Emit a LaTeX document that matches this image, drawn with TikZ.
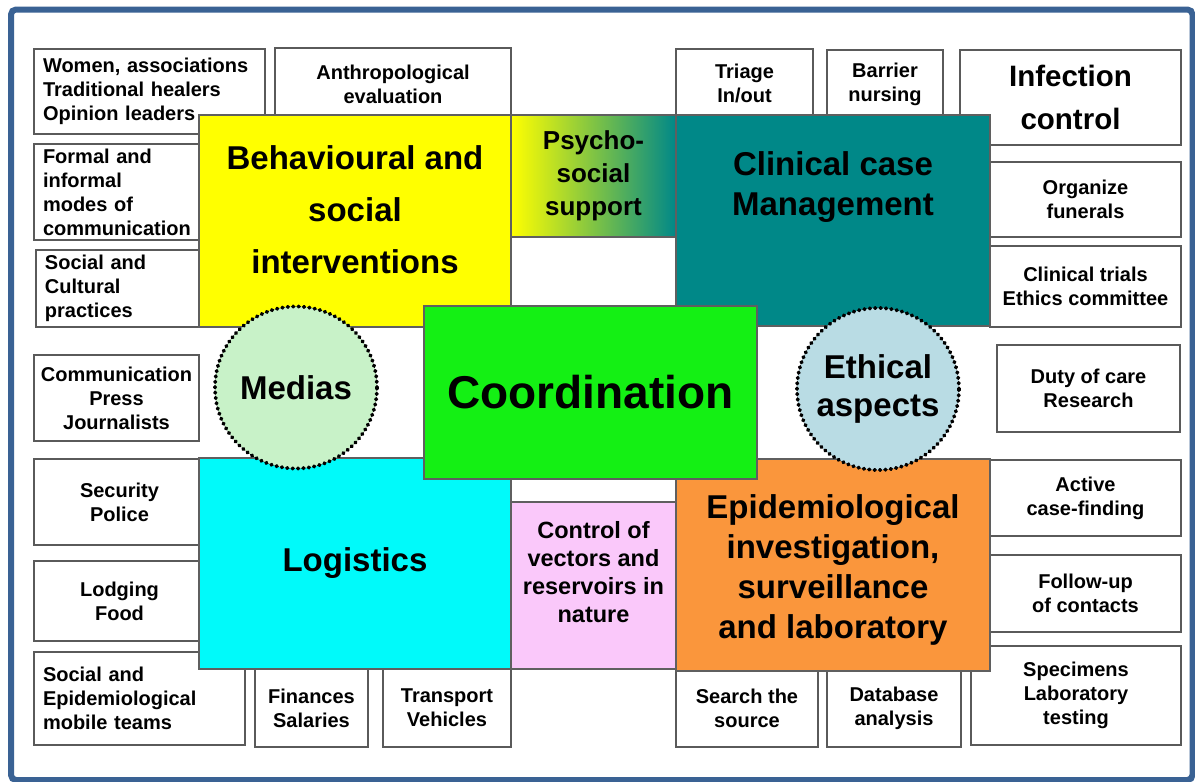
\documentclass[tikz,border=0pt]{standalone}
\usepackage{fontspec}
\setmainfont{Liberation Sans}

\definecolor{frameblue}{RGB}{58,98,148}
\definecolor{boxgray}{RGB}{90,90,90}
\definecolor{edgegray}{RGB}{95,95,95}
\definecolor{boxyellow}{RGB}{255,255,0}
\definecolor{boxteal}{RGB}{0,136,136}
\definecolor{boxgreen}{RGB}{20,240,20}
\definecolor{boxcyan}{RGB}{0,250,250}
\definecolor{boxorange}{RGB}{250,150,60}
\definecolor{boxpink}{RGB}{250,200,250}
\definecolor{mediagreen}{RGB}{200,242,200}
\definecolor{ethicblue}{RGB}{185,220,228}

\begin{document}
\begin{tikzpicture}[x=1pt,y=-1pt,
  smallbox/.style={draw=boxgray,line width=1.5pt,fill=white,inner sep=0pt,
    align=center,font=\bfseries\fontsize{20}{24}\selectfont},
  leftbox/.style={smallbox,align=left,inner xsep=9pt},
  bigbox/.style={draw=edgegray,line width=1.2pt,inner sep=0pt,align=center},
  headline/.style={align=center,font=\bfseries\fontsize{33}{40}\selectfont},
  spot/.style={circle,draw=black,line width=3.8pt,dash pattern=on 0.8pt off 4.6pt,
    line cap=round,minimum size=162pt,inner sep=0pt,align=center,
    font=\bfseries\fontsize{33}{38}\selectfont}]
\useasboundingbox (0,0) rectangle (1195,782);
\fill[white] (0,0) rectangle (1195,782);
\draw[frameblue,line width=6pt,rounded corners=5pt] (11,9.5) rectangle (1192.5,780);

% outer ring of small boxes
\node[leftbox,minimum width=231,minimum height=85,text width=213] (women) at (149.5,91.5) {Women, associations\\Traditional healers\\Opinion leaders};
\node[leftbox,minimum width=171,minimum height=96,text width=153] (formal) at (119.5,192) {Formal and\\informal\\modes of\\communication};
\node[leftbox,minimum width=169,minimum height=77,text width=151] (cultural) at (120.5,288.5) {Social and\\Cultural\\practices};
\node[smallbox,minimum width=165,minimum height=86] (press) at (116.5,398) {Communication\\Press\\Journalists};
\node[smallbox,minimum width=171,minimum height=86] (police) at (119.5,502) {Security\\Police};
\node[smallbox,minimum width=171,minimum height=80] (food) at (119.5,601) {Lodging\\Food};
\node[leftbox,minimum width=211,minimum height=93,text width=193] (teams) at (139.5,698.5) {Social and\\Epidemiological\\mobile teams};
\node[smallbox,minimum width=113,minimum height=78] (money) at (311.5,708) {Finances\\Salaries};
\node[smallbox,minimum width=128,minimum height=78] (transport) at (447,708) {Transport\\Vehicles};
\node[smallbox,minimum width=236,minimum height=72] (anthro) at (393,84) {Anthropological\\evaluation};
\node[smallbox,minimum width=137,minimum height=69] (triage) at (744.5,83.5) {Triage\\In/out};
\node[smallbox,minimum width=116,minimum height=69] (barrier) at (885,84.5) {Barrier\\nursing};
\node[smallbox,minimum width=221,minimum height=95,font=\bfseries\fontsize{29.5}{43}\selectfont] (infection) at (1070.5,97.5) {Infection\\control};
\node[smallbox,minimum width=191,minimum height=75] (funerals) at (1085.5,199.5) {Organize\\funerals};
\node[smallbox,minimum width=191,minimum height=81] (trials) at (1085.5,286.5) {Clinical trials\\Ethics committee};
\node[smallbox,minimum width=183,minimum height=87] (duty) at (1088.5,388.5) {Duty of care\\Research};
\node[smallbox,minimum width=191,minimum height=76] (active) at (1085.5,498) {Active\\case-finding};
\node[smallbox,minimum width=191,minimum height=77] (contacts) at (1085.5,593.5) {Follow-up\\of contacts};
\node[smallbox,minimum width=210,minimum height=99] (specimens) at (1076,695.5) {Specimens\\Laboratory\\testing};
\node[smallbox,minimum width=142,minimum height=78] (source) at (747,708) {Search the\\source};
\node[smallbox,minimum width=134,minimum height=78] (database) at (894,708) {Database\\analysis};

% coloured blocks
\node[bigbox,left color=boxyellow,right color=boxteal,minimum width=165,minimum height=122,
  font=\bfseries\fontsize{26}{33}\selectfont] (psycho) at (593.5,176) {Psycho-\\social\\support};
\node[bigbox,fill=boxpink,minimum width=165,minimum height=167] (vectors) at (593.5,585.5) {};
\node[headline,font=\bfseries\fontsize{23.5}{28}\selectfont] (vectorsT) at ([yshift=13.5pt]vectors.center) {Control of\\vectors and\\reservoirs in\\nature};
\node[bigbox,fill=boxyellow,minimum width=312,minimum height=212] (behaviour) at (355,221) {};
\node[headline,font=\bfseries\fontsize{33}{52}\selectfont] (behaviourT) at ([yshift=11pt]behaviour.center) {Behavioural and\\social\\interventions};
\node[bigbox,fill=boxteal,minimum width=314,minimum height=211] (clinical) at (833,220.5) {};
\node[headline] (clinicalT) at ([yshift=33.5pt]clinical.center) {Clinical case\\Management};
\node[bigbox,fill=boxcyan,minimum width=312,minimum height=211,font=\bfseries\fontsize{33}{40}\selectfont] (logistics) at (355,563.5) {Logistics};
\node[bigbox,fill=boxorange,minimum width=314,minimum height=212] (epi) at (833,565) {};
\node[headline] (epiT) at ([yshift=-5pt]epi.center) {Epidemiological\\investigation,\\surveillance\\and laboratory};
\node[bigbox,fill=boxgreen,minimum width=333,minimum height=173,font=\bfseries\fontsize{46}{50}\selectfont] (coord) at (590.5,392.5) {Coordination};

% dotted circles
\node[spot,fill=mediagreen] (medias) at (296,387.5) {Medias};
\node[spot,fill=ethicblue] (ethics) at (878,389) {Ethical\\aspects};
\end{tikzpicture}
\end{document}
